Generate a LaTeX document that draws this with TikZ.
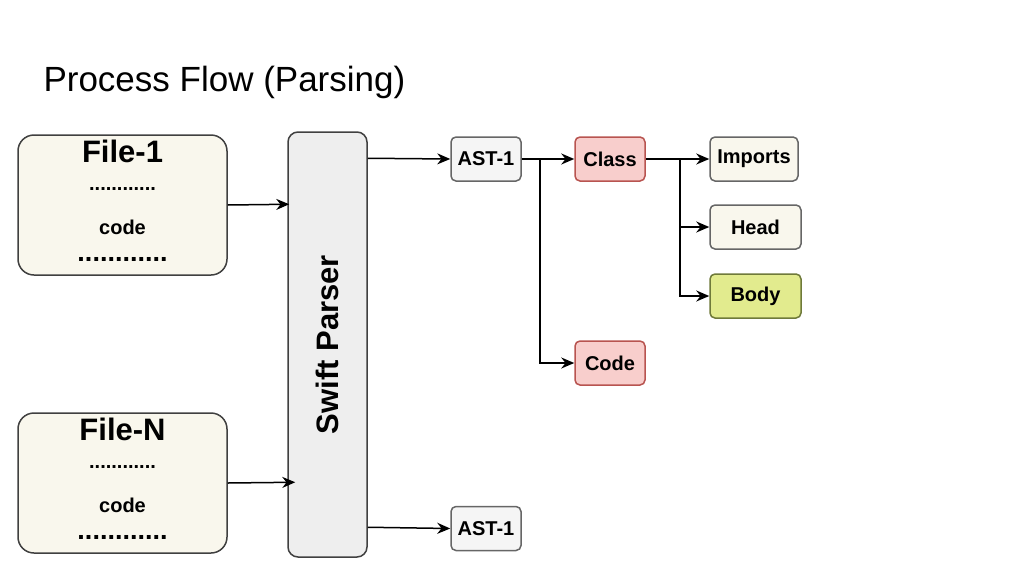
\documentclass[tikz,border=0pt]{standalone}
\usepackage{fontspec}
\setmainfont{Liberation Sans}
\usetikzlibrary{arrows.meta, positioning, calc}
\definecolor{filebg}{HTML}{F9F7ED}
\definecolor{parserbg}{HTML}{EEEEEE}
\definecolor{astbg}{HTML}{F5F5F5}
\definecolor{classbg}{HTML}{F8CECC}
\definecolor{classline}{HTML}{B85450}
\definecolor{bodybg}{HTML}{E2EB8E}
\definecolor{bodyline}{HTML}{6F7A3A}

\begin{document}
\begin{tikzpicture}[x=1pt, y=-1pt, >={Stealth[length=13pt, width=11pt]}, font=\bfseries\fontsize{20}{24}\selectfont]
    \tikzset{
        filebox/.style={draw=black!75, line width=1.5pt, rounded corners=16pt, fill=filebg, minimum width=209pt, minimum height=140pt},
        tag/.style={draw=black!60, line width=1.5pt, rounded corners=5pt, fill=astbg, minimum width=70pt, minimum height=44pt, inner sep=0pt},
        redtag/.style={tag, draw=classline, fill=classbg},
        link/.style={->, line width=1.5pt}
    }
    \useasboundingbox (0,0) rectangle (1024,576);

    % Title
    \node[anchor=west, font=\fontsize{35}{40}\selectfont] (title) at (40,82) {Process Flow (Parsing)};

    % Input files
    \node[filebox] (file1) at (122.5,205) {};
    \node[font=\bfseries\fontsize{31}{36}\selectfont] at (122.5,151) {File-1};
    \node at (122.5,189) {............};
    \node at (122.5,227) {code};
    \node[font=\bfseries\fontsize{27}{30}\selectfont] at (122.5,259) {............};

    \node[filebox] (fileN) at (122.5,483) {};
    \node[font=\bfseries\fontsize{31}{36}\selectfont] at (122.5,429) {File-N};
    \node at (122.5,467) {............};
    \node at (122.5,505) {code};
    \node[font=\bfseries\fontsize{27}{30}\selectfont] at (122.5,537) {............};

    % Parser
    \node[draw=black!75, line width=1.5pt, rounded corners=10pt, fill=parserbg, minimum width=79pt, minimum height=425pt] (parser) at (327.5,344.5) {};
    \node[rotate=90, font=\bfseries\fontsize{31}{36}\selectfont] at (parser.center) {Swift Parser};

    \draw[link] (file1.east) -- ($(parser.north west)+(2,73)$);
    \draw[link] (fileN.east) -- ($(parser.north west)+(8,351)$);

    % Trees
    \node[tag] (ast1) at (486,159) {AST-1};
    \node[tag] (astN) at (486,528.5) {AST-1};
    \node[redtag] (class) at (610,159) {Class};
    \node[redtag] (code) at (610,363) {Code};
    \node[tag, fill=filebg, minimum width=88pt] (imports) at (754,159) {Imports};
    \node[tag, fill=filebg, minimum width=91pt] (head) at (755.5,227) {Head};
    \node[tag, draw=bodyline, fill=bodybg, minimum width=91pt] (body) at (755.5,296) {Body};

    \draw[link] ($(parser.north east)+(0,27)$) -- (ast1.west);
    \draw[link] ($(parser.north east)+(0,396)$) -- (astN.west);
    \draw[link] (ast1.east) -- (class.west);
    \draw[link] (ast1.east) -| (540,363) -- (code.west);
    \draw[link] (class.east) -- (imports.west);
    \draw[link] (680,159) |- (head.west);
    \draw[link] (680,159) |- (body.west);
\end{tikzpicture}
\end{document}
